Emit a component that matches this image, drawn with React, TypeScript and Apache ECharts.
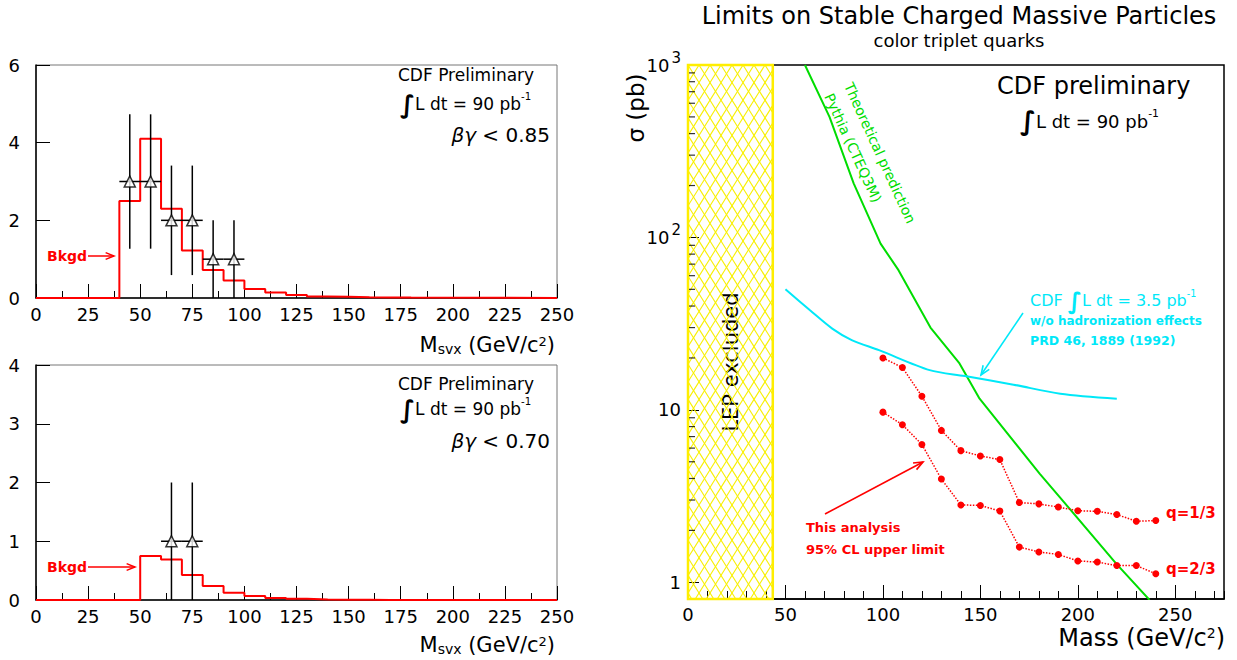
import React, { useEffect, useRef } from 'react';
import * as echarts from 'echarts';

// ---------- Data: left histograms ----------
const binEdges = [0, 40, 50, 60, 70, 80, 90, 100, 110, 120, 130, 140, 150, 160, 170, 180, 250];
const bkgdTop = [0, 2.5, 4.1, 2.3, 1.22, 0.72, 0.45, 0.23, 0.14, 0.08, 0.04, 0.03, 0.02, 0.015, 0.01, 0];
const bkgdBottom = [0, 0, 0.75, 0.69, 0.425, 0.24, 0.125, 0.068, 0.034, 0.02, 0.01, 0.005, 0.003, 0, 0, 0];
const binHalfWidth = 5;
const obsTopX = [45, 55, 65, 75, 85, 95];
const obsTopY = [3, 3, 2, 2, 1, 1];
const obsTopErr = [1.73, 1.73, 1.41, 1.41, 1, 1];
const obsBotX = [65, 75];
const obsBotY = [1, 1];
const obsBotErr = [1, 1];

// ---------- Data: right plot ----------
const lepMassLimit = 43.5;
const limitMass = [100, 110, 120, 130, 140, 150, 160, 170, 180, 190, 200, 210, 220, 230, 240];
const limitQ13 = [20, 17.6, 12, 7.6, 5.8, 5.4, 5.15, 2.9, 2.85, 2.73, 2.6, 2.58, 2.47, 2.26, 2.28];
const limitQ23 = [9.7, 8.2, 6.3, 3.97, 2.81, 2.79, 2.59, 1.6, 1.5, 1.45, 1.33, 1.31, 1.25, 1.25, 1.12];
const theoryMass = [60, 72.6, 85, 98.8, 108, 124.4, 139.3, 149.6, 180.4, 190.6, 219.8, 236.8];
const theorySigma = [1000, 500, 206, 92, 64.6, 30, 18.6, 11.6, 4.27, 3.13, 1.28, 0.79];
const oldCdfMass = [50, 62.6, 74, 84, 98, 124, 142, 167, 191, 220];
const oldCdfSigma = [50, 37.8, 29.6, 25.4, 22.2, 17, 15.7, 14, 12.4, 11.6];
const logMinorTicks = [2, 3, 4, 5, 6, 7, 8, 9, 20, 30, 40, 50, 60, 70, 80, 90, 200, 300, 400, 500, 600, 700, 800, 900];

const FONT = '"DejaVu Sans", "Liberation Sans", sans-serif';
const RED = '#ff0000';
const GREEN = '#00dd00';
const CYAN = '#00e8f8';

function stepPoints(edges: number[], vals: number[]) {
  const pts: number[][] = [];
  for (let i = 0; i < vals.length; i++) {
    pts.push([edges[i], vals[i]]);
    pts.push([edges[i + 1], vals[i]]);
  }
  return pts;
}

function arrow(x1: number, y1: number, x2: number, y2: number, color: string, w = 1.6, head = 10) {
  const ang = Math.atan2(y2 - y1, x2 - x1);
  const a1 = ang + Math.PI - 0.38;
  const a2 = ang + Math.PI + 0.38;
  return [
    { type: 'line', shape: { x1, y1, x2, y2 }, style: { stroke: color, lineWidth: w } },
    {
      type: 'polyline',
      shape: {
        points: [
          [x2 + head * Math.cos(a1), y2 + head * Math.sin(a1)],
          [x2, y2],
          [x2 + head * Math.cos(a2), y2 + head * Math.sin(a2)],
        ],
      },
      style: { stroke: color, lineWidth: w, fill: 'none' },
    },
  ];
}

function txt(x: number, y: number, text: string, size: number, color = '#000', extra: any = {}) {
  const { rotation, ...styleExtra } = extra;
  return {
    type: 'text',
    x,
    y,
    rotation: rotation || 0,
    style: {
      text,
      fill: color,
      fontSize: size,
      fontFamily: FONT,
      align: 'left',
      verticalAlign: 'middle',
      ...styleExtra,
    },
  };
}

function integralRich(size: number, color: string) {
  return {
    i: { fontSize: size * 1.45, fontStyle: 'italic', fontWeight: 'bold', fill: color, fontFamily: FONT },
    t: { fontSize: size, fill: color, fontFamily: FONT },
    s: { fontSize: size * 0.6, fill: color, fontFamily: FONT, verticalAlign: 'top' },
  };
}

function errorBarRender(params: any, api: any) {
  const x = api.value(0);
  const y = api.value(1);
  const e = api.value(2);
  const l = api.coord([x - binHalfWidth, y]);
  const r = api.coord([x + binHalfWidth, y]);
  const t = api.coord([x, y + e]);
  const b = api.coord([x, Math.max(0, y - e)]);
  return {
    type: 'group',
    children: [
      { type: 'line', shape: { x1: l[0], y1: l[1], x2: r[0], y2: r[1] }, style: { stroke: '#000', lineWidth: 1.5 } },
      { type: 'line', shape: { x1: t[0], y1: t[1], x2: b[0], y2: b[1] }, style: { stroke: '#000', lineWidth: 1.5 } },
    ],
  };
}

function hatchRender(params: any, api: any) {
  const cs = params.coordSys;
  const L = api.coord([0, 1])[0];
  const R = api.coord([api.value(0), 1])[0];
  const T = cs.y;
  const B = cs.y + cs.height;
  const H = B - T;
  const s = 11;
  const m = 1.6;
  const children: any[] = [];
  const lineStyle = { stroke: '#f8f000', lineWidth: 1.1 };
  const start = L - Math.ceil(H / m / s) * s;
  for (let c = start; c <= R; c += s) {
    const yA = Math.max(T, T + (L - c) * m);
    const yB = Math.min(B, T + (R - c) * m);
    if (yB > yA) children.push({ type: 'line', shape: { x1: c + (yA - T) / m, y1: yA, x2: c + (yB - T) / m, y2: yB }, style: lineStyle });
  }
  for (let c = L; c <= R + H / m + s; c += s) {
    const yA = Math.max(T, T + (c - R) * m);
    const yB = Math.min(B, T + (c - L) * m);
    if (yB > yA) children.push({ type: 'line', shape: { x1: c - (yA - T) / m, y1: yA, x2: c - (yB - T) / m, y2: yB }, style: lineStyle });
  }
  children.push({ type: 'rect', shape: { x: L, y: T, width: R - L, height: H }, style: { fill: 'none', stroke: '#ffee00', lineWidth: 2.5 } });
  return { type: 'group', children };
}

const axisLabelBase = { color: '#000', fontSize: 18, fontFamily: FONT };

function leftX(gridIndex: number) {
  return {
    type: 'value',
    gridIndex,
    min: 0,
    max: 250,
    interval: 25,
    position: 'bottom',
    axisLine: { show: true, onZero: false, lineStyle: { color: '#000', width: 1.5 } },
    axisTick: { show: true, inside: true, length: 14, lineStyle: { color: '#000', width: 1 } },
    minorTick: { show: true, splitNumber: 2, length: 7, lineStyle: { color: '#000', width: 1 } },
    axisLabel: { ...axisLabelBase, margin: 7 },
    splitLine: { show: false },
  };
}

function leftY(gridIndex: number, max: number, interval: number) {
  return {
    type: 'value',
    gridIndex,
    min: 0,
    max,
    interval,
    axisLine: { show: true, onZero: false, lineStyle: { color: '#000', width: 1.5 } },
    axisTick: { show: true, inside: true, length: 14, lineStyle: { color: '#000', width: 1 } },
    axisLabel: { ...axisLabelBase, margin: 16 },
    splitLine: { show: false },
  };
}

const msvxRich = {
  t: { fontSize: 21, fontFamily: FONT },
  b: { fontSize: 14, fontFamily: FONT, verticalAlign: 'bottom' },
  s: { fontSize: 13, fontFamily: FONT, verticalAlign: 'top' },
};

const betaRich = {
  g: { fontSize: 20, fontStyle: 'italic', fontFamily: FONT },
  t: { fontSize: 20, fontFamily: FONT },
};

export default function App() {
  const ref = useRef<HTMLDivElement>(null);
  useEffect(() => {
    document.body.style.margin = '0';
    if (!ref.current) return;
    const chart = echarts.init(ref.current, undefined, { renderer: 'svg' });

    const graphic: any[] = [
      // right plot titles
      txt(959, 16, 'Limits on Stable Charged Massive Particles', 24, '#000', { align: 'center' }),
      txt(959, 40, 'color triplet quarks', 18, '#000', { align: 'center' }),
      txt(997, 86, 'CDF preliminary', 24),
      txt(1020, 121, '{i|∫}{t|L dt = 90 pb}{s|-1}', 18, '#000', { rich: integralRich(18, '#000') }),
      txt(636, 108, 'σ (pb)', 23, '#000', { align: 'center', rotation: Math.PI / 2 }),
      txt(1225, 638, '{t|Mass (GeV/c}{s|2}{t|)}', 24, '#000', {
        align: 'right',
        rich: { t: { fontSize: 24, fontFamily: FONT }, s: { fontSize: 14, fontFamily: FONT, verticalAlign: 'top' } },
      }),
      txt(731, 362, 'LEP excluded', 21, '#000', { align: 'center', rotation: Math.PI / 2 }),
      // green labels
      txt(880, 153, 'Theoretical prediction', 14, GREEN, { align: 'center', rotation: -65.5 * Math.PI / 180 }),
      txt(853, 148, 'Pythia (CTEQ3M)', 14, GREEN, { align: 'center', rotation: -65.5 * Math.PI / 180 }),
      // cyan labels
      txt(1030, 300, '{t|CDF }{i|∫}{t|L dt = 3.5 pb}{s|-1}', 16, CYAN, { rich: integralRich(16, CYAN) }),
      txt(1030, 321, 'w/o hadronization effects', 12, CYAN, { fontWeight: 'bold' }),
      txt(1030, 340, 'PRD 46, 1889 (1992)', 12.5, CYAN, { fontWeight: 'bold' }),
      ...arrow(1023, 313, 981, 375, CYAN),
      // red labels
      txt(806, 527, 'This analysis', 13, RED, { fontWeight: 'bold' }),
      txt(806, 549, '95% CL upper limit', 13, RED, { fontWeight: 'bold' }),
      ...arrow(825, 514, 923, 462, RED),
      txt(1166, 513, 'q=1/3', 15, RED, { fontWeight: 'bold' }),
      txt(1166, 569, 'q=2/3', 15, RED, { fontWeight: 'bold' }),
      // left top panel texts
      txt(398, 75, 'CDF Preliminary', 17),
      txt(400, 104, '{i|∫}{t|L dt = 90 pb}{s|-1}', 17, '#000', { rich: integralRich(17, '#000') }),
      txt(550, 135, '{g|βγ}{t| < 0.85}', 20, '#000', { align: 'right', rich: betaRich }),
      txt(555, 345, '{t|M}{b|svx}{t| (GeV/c}{s|2}{t|)}', 21, '#000', { align: 'right', rich: msvxRich }),
      txt(47, 256, 'Bkgd', 14, RED, { fontWeight: 'bold' }),
      ...arrow(88, 256, 114, 256, RED, 1.5, 9),
      // left bottom panel texts
      txt(398, 384, 'CDF Preliminary', 17),
      txt(400, 409, '{i|∫}{t|L dt = 90 pb}{s|-1}', 17, '#000', { rich: integralRich(17, '#000') }),
      txt(550, 441, '{g|βγ}{t| < 0.70}', 20, '#000', { align: 'right', rich: betaRich }),
      txt(555, 645, '{t|M}{b|svx}{t| (GeV/c}{s|2}{t|)}', 21, '#000', { align: 'right', rich: msvxRich }),
      txt(47, 567, 'Bkgd', 14, RED, { fontWeight: 'bold' }),
      ...arrow(88, 567, 135, 567, RED, 1.5, 9),
    ];

    const option: any = {
      animation: false,
      backgroundColor: '#fff',
      textStyle: { fontFamily: FONT },
      grid: [
        { left: 36, top: 65, width: 521, height: 233, show: true, borderColor: '#777', borderWidth: 1, backgroundColor: 'transparent' },
        { left: 36, top: 365, width: 521, height: 235, show: true, borderColor: '#777', borderWidth: 1, backgroundColor: 'transparent' },
        { left: 688, top: 65, width: 536, height: 534, show: true, borderColor: '#000', borderWidth: 1.5, backgroundColor: 'transparent' },
      ],
      xAxis: [
        leftX(0),
        leftX(1),
        {
          type: 'value',
          gridIndex: 2,
          min: 0,
          max: 275,
          interval: 50,
          position: 'bottom',
          axisLine: { show: true, onZero: false, lineStyle: { color: '#000', width: 1.5 } },
          axisTick: { show: true, inside: true, length: 14, lineStyle: { color: '#000', width: 1 } },
          axisLabel: { ...axisLabelBase, margin: 6, showMaxLabel: false },
          splitLine: { show: false },
        },
        {
          type: 'value',
          gridIndex: 2,
          min: 0,
          max: 275,
          interval: 10,
          position: 'bottom',
          axisLine: { show: false, onZero: false },
          axisTick: { show: true, inside: true, length: 8, lineStyle: { color: '#000', width: 1 } },
          axisLabel: { show: false },
          splitLine: { show: false },
        },
      ],
      yAxis: [
        leftY(0, 6, 2),
        leftY(1, 4, 1),
        {
          type: 'log',
          gridIndex: 2,
          min: 0.8,
          max: 1000,
          logBase: 10,
          axisLine: { show: true, onZero: false, lineStyle: { color: '#000', width: 2 } },
          axisTick: { show: true, inside: true, length: 11, lineStyle: { color: '#000', width: 1 } },
          axisLabel: {
            ...axisLabelBase,
            margin: 7,
            showMinLabel: false,
            formatter: (v: number) => {
              const p = Math.round(Math.log10(v));
              if (Math.abs(Math.log10(v) - p) > 1e-6) return '';
              if (p === 0) return '{b|1}';
              if (p === 1) return '{b|10}';
              return '{b|10}{s|' + p + '}';
            },
            rich: {
              b: { fontSize: 18, fontFamily: FONT, color: '#000' },
              s: { fontSize: 15, fontFamily: FONT, color: '#000', padding: [0, 0, 14, 2] },
            },
          },
          splitLine: { show: false },
        },
      ],
      series: [
        {
          type: 'line',
          xAxisIndex: 0,
          yAxisIndex: 0,
          data: stepPoints(binEdges, bkgdTop),
          symbol: 'none',
          lineStyle: { color: RED, width: 2 },
          z: 3,
        },
        {
          type: 'custom',
          xAxisIndex: 0,
          yAxisIndex: 0,
          data: obsTopX.map((x, i) => [x, obsTopY[i], obsTopErr[i]]),
          renderItem: errorBarRender,
          z: 4,
        },
        {
          type: 'scatter',
          xAxisIndex: 0,
          yAxisIndex: 0,
          data: obsTopX.map((x, i) => [x, obsTopY[i]]),
          symbol: 'triangle',
          symbolSize: 11,
          itemStyle: { color: '#fff', borderColor: '#000', borderWidth: 1.5 },
          z: 5,
        },
        {
          type: 'line',
          xAxisIndex: 1,
          yAxisIndex: 1,
          data: stepPoints(binEdges, bkgdBottom),
          symbol: 'none',
          lineStyle: { color: RED, width: 2 },
          z: 3,
        },
        {
          type: 'custom',
          xAxisIndex: 1,
          yAxisIndex: 1,
          data: obsBotX.map((x, i) => [x, obsBotY[i], obsBotErr[i]]),
          renderItem: errorBarRender,
          z: 4,
        },
        {
          type: 'scatter',
          xAxisIndex: 1,
          yAxisIndex: 1,
          data: obsBotX.map((x, i) => [x, obsBotY[i]]),
          symbol: 'triangle',
          symbolSize: 11,
          itemStyle: { color: '#fff', borderColor: '#000', borderWidth: 1.5 },
          z: 5,
        },
        {
          type: 'custom',
          xAxisIndex: 2,
          yAxisIndex: 2,
          data: [[lepMassLimit, 1]],
          renderItem: hatchRender,
          z: 1,
        },
        {
          type: 'scatter',
          xAxisIndex: 2,
          yAxisIndex: 2,
          data: logMinorTicks.map((v) => [0, v]),
          symbol: 'rect',
          symbolSize: [6, 1.2],
          symbolOffset: [4, 0],
          itemStyle: { color: '#000' },
          clip: false,
          silent: true,
          z: 6,
        },
        {
          type: 'line',
          xAxisIndex: 2,
          yAxisIndex: 2,
          data: theoryMass.map((m, i) => [m, theorySigma[i]]),
          symbol: 'none',
          lineStyle: { color: GREEN, width: 2 },
          z: 3,
        },
        {
          type: 'line',
          xAxisIndex: 2,
          yAxisIndex: 2,
          data: oldCdfMass.map((m, i) => [m, oldCdfSigma[i]]),
          symbol: 'none',
          smooth: 0.3,
          lineStyle: { color: CYAN, width: 2 },
          z: 3,
        },
        {
          type: 'line',
          xAxisIndex: 2,
          yAxisIndex: 2,
          data: limitMass.map((m, i) => [m, limitQ13[i]]),
          symbol: 'circle',
          symbolSize: 7,
          itemStyle: { color: RED },
          lineStyle: { color: RED, width: 1.5, type: 'dotted' },
          z: 4,
        },
        {
          type: 'line',
          xAxisIndex: 2,
          yAxisIndex: 2,
          data: limitMass.map((m, i) => [m, limitQ23[i]]),
          symbol: 'circle',
          symbolSize: 7,
          itemStyle: { color: RED },
          lineStyle: { color: RED, width: 1.5, type: 'dotted' },
          z: 4,
        },
      ],
      graphic,
    };
    chart.setOption(option);
    return () => chart.dispose();
  }, []);
  return <div ref={ref} style={{ width: 1237, height: 660 }} />;
}
